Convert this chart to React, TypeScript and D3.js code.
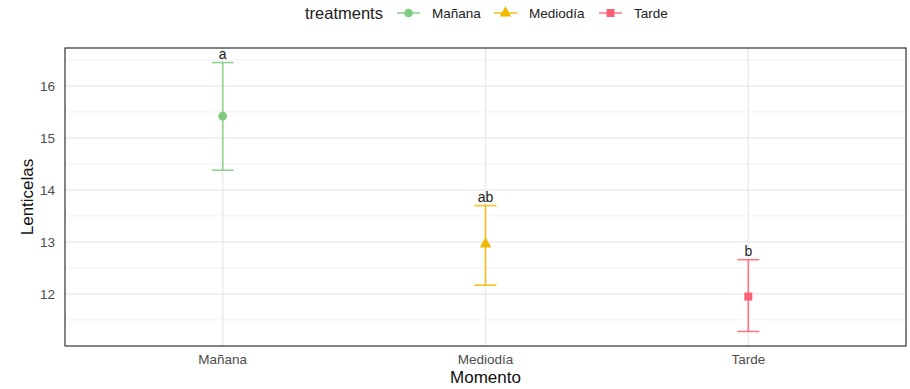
import React, { useEffect, useRef } from "react";
import * as d3 from "d3";

const categories = ["Mañana", "Mediodía", "Tarde"];
const means = [15.42, 12.96, 11.95];
const upper = [16.45, 13.7, 12.66];
const lower = [14.38, 12.17, 11.28];
const letters = ["a", "ab", "b"];
const colors = ["#7FCB7F", "#F0B800", "#FA6273"];
const yTicks = [12, 13, 14, 15, 16];

const W = 910;
const H = 389;
const m = { left: 65, right: 4, top: 48, bottom: 43 };

const App = () => {
  const ref = useRef<SVGSVGElement>(null);

  useEffect(() => {
    const svg = d3.select(ref.current);
    svg.selectAll("*").remove();

    const x0 = m.left;
    const x1 = W - m.right;
    const y0 = H - m.bottom;
    const y1 = m.top;

    // discrete axis with ggplot-like 0.6 expansion
    const xScale = d3
      .scaleLinear()
      .domain([0.4, categories.length + 0.6])
      .range([x0, x1]);
    const xPos = (i: number) => xScale(i + 1);

    const yScale = d3.scaleLinear().domain([11.0, 16.73]).range([y0, y1]);

    const font = "Liberation Sans, Arial, sans-serif";

    // grid: minor lines
    const minor = d3.range(11.5, 16.6, 1);
    svg
      .append("g")
      .selectAll("line")
      .data(minor)
      .enter()
      .append("line")
      .attr("x1", x0)
      .attr("x2", x1)
      .attr("y1", d => yScale(d))
      .attr("y2", d => yScale(d))
      .attr("stroke", "#f2f2f2")
      .attr("stroke-width", 1);

    // grid: major lines
    svg
      .append("g")
      .selectAll("line")
      .data(yTicks)
      .enter()
      .append("line")
      .attr("x1", x0)
      .attr("x2", x1)
      .attr("y1", d => yScale(d))
      .attr("y2", d => yScale(d))
      .attr("stroke", "#ebebeb")
      .attr("stroke-width", 1.6);

    svg
      .append("g")
      .selectAll("line")
      .data(categories)
      .enter()
      .append("line")
      .attr("x1", (d, i) => xPos(i))
      .attr("x2", (d, i) => xPos(i))
      .attr("y1", y0)
      .attr("y2", y1)
      .attr("stroke", "#ebebeb")
      .attr("stroke-width", 1.6);

    // error bars
    const capHalf = 11;
    const eb = svg
      .append("g")
      .selectAll("g")
      .data(categories)
      .enter()
      .append("g")
      .attr("stroke", (d, i) => colors[i])
      .attr("stroke-opacity", 0.85)
      .attr("stroke-width", 1.6)
      .attr("fill", "none");
    eb.append("line")
      .attr("x1", (d, i) => xPos(i))
      .attr("x2", (d, i) => xPos(i))
      .attr("y1", (d, i) => yScale(upper[i]))
      .attr("y2", (d, i) => yScale(lower[i]));
    eb.append("line")
      .attr("x1", (d, i) => xPos(i) - capHalf)
      .attr("x2", (d, i) => xPos(i) + capHalf)
      .attr("y1", (d, i) => yScale(upper[i]))
      .attr("y2", (d, i) => yScale(upper[i]));
    eb.append("line")
      .attr("x1", (d, i) => xPos(i) - capHalf)
      .attr("x2", (d, i) => xPos(i) + capHalf)
      .attr("y1", (d, i) => yScale(lower[i]))
      .attr("y2", (d, i) => yScale(lower[i]));

    // points
    const shapes = [d3.symbolCircle, d3.symbolTriangle, d3.symbolSquare];
    const sizes = [60, 60, 64];
    svg
      .append("g")
      .selectAll("path")
      .data(categories)
      .enter()
      .append("path")
      .attr("d", (d, i) => d3.symbol().type(shapes[i]).size(sizes[i])()!)
      .attr("transform", (d, i) => `translate(${xPos(i)},${yScale(means[i])})`)
      .attr("fill", (d, i) => colors[i]);

    // letters
    svg
      .append("g")
      .selectAll("text")
      .data(letters)
      .enter()
      .append("text")
      .attr("x", (d, i) => xPos(i))
      .attr("y", (d, i) => yScale(upper[i]) - 4)
      .attr("text-anchor", "middle")
      .attr("font-family", font)
      .attr("font-size", 14)
      .attr("fill", "#222")
      .text(d => d);

    // panel border
    svg
      .append("rect")
      .attr("x", x0)
      .attr("y", y1)
      .attr("width", x1 - x0)
      .attr("height", y0 - y1)
      .attr("fill", "none")
      .attr("stroke", "#333")
      .attr("stroke-width", 1.2);

    // y ticks
    svg
      .append("g")
      .selectAll("text")
      .data(yTicks)
      .enter()
      .append("text")
      .attr("x", x0 - 10)
      .attr("y", d => yScale(d))
      .attr("dy", "0.35em")
      .attr("text-anchor", "end")
      .attr("font-family", font)
      .attr("font-size", 13.5)
      .attr("fill", "#4d4d4d")
      .text(d => d);

    // x ticks
    svg
      .append("g")
      .selectAll("text")
      .data(categories)
      .enter()
      .append("text")
      .attr("x", (d, i) => xPos(i))
      .attr("y", y0 + 18)
      .attr("text-anchor", "middle")
      .attr("font-family", font)
      .attr("font-size", 13.5)
      .attr("fill", "#4d4d4d")
      .text(d => d);

    // axis titles
    svg
      .append("text")
      .attr("x", (x0 + x1) / 2)
      .attr("y", H - 6)
      .attr("text-anchor", "middle")
      .attr("font-family", font)
      .attr("font-size", 17)
      .attr("fill", "#111")
      .text("Momento");

    svg
      .append("text")
      .attr("transform", `translate(33,${(y0 + y1) / 2}) rotate(-90)`)
      .attr("text-anchor", "middle")
      .attr("font-family", font)
      .attr("font-size", 17)
      .attr("fill", "#111")
      .text("Lenticelas");

    // legend
    const leg = svg.append("g").attr("transform", "translate(0,13)");
    leg
      .append("text")
      .attr("x", 305)
      .attr("y", 0)
      .attr("dy", "0.35em")
      .attr("font-family", font)
      .attr("font-size", 16.5)
      .attr("fill", "#222")
      .text("treatments");
    const keyX = [397, 494, 599];
    categories.forEach((c, i) => {
      const g = leg.append("g").attr("transform", `translate(${keyX[i]},0)`);
      g.append("line")
        .attr("x1", 0)
        .attr("x2", 23)
        .attr("stroke", colors[i])
        .attr("stroke-opacity", 0.85)
        .attr("stroke-width", 1.6);
      g.append("path")
        .attr("d", d3.symbol().type(shapes[i]).size(sizes[i])()!)
        .attr("transform", "translate(11.5,0)")
        .attr("fill", colors[i]);
      g.append("text")
        .attr("x", 35)
        .attr("dy", "0.35em")
        .attr("font-family", font)
        .attr("font-size", 13.5)
        .attr("fill", "#222")
        .text(c);
    });
  }, []);

  return (
    <svg
      ref={ref}
      width={W}
      height={H}
      style={{ position: "absolute", left: 0, top: 0, background: "#fff" }}
    ></svg>
  );
};

export default App;
